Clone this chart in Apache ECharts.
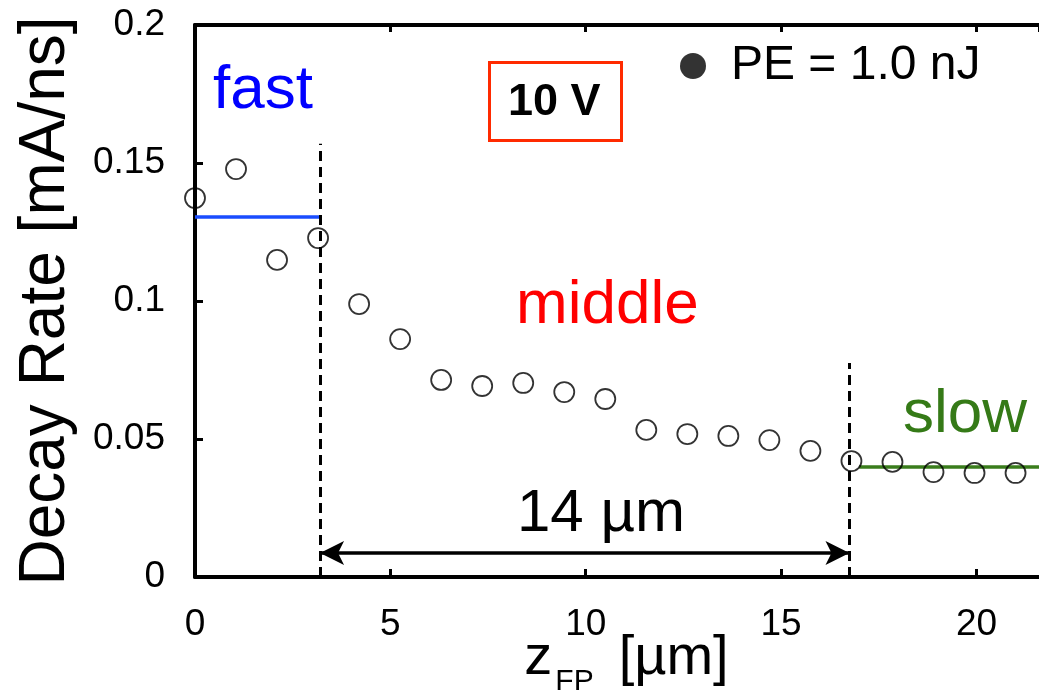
<!DOCTYPE html>
<html>
<head>
<meta charset="utf-8">
<script src="https://cdn.jsdelivr.net/npm/echarts@6/dist/echarts.min.js"></script>
<style>
html,body{margin:0;padding:0;background:#fff;}
#chart{width:1039px;height:695px;}
</style>
</head>
<body>
<div id="chart"></div>
<script>
// ---- data ----
var zPositions = [0, 1.05, 2.1, 3.15, 4.2, 5.25, 6.3, 7.35, 8.4, 9.45, 10.5, 11.55, 12.6, 13.65, 14.7, 15.75, 16.8, 17.85, 18.9, 19.95, 21.0];
var decayRates = [0.1373, 0.1478, 0.1149, 0.1228, 0.0989, 0.0862, 0.0714, 0.0692, 0.0703, 0.0670, 0.0645, 0.0533, 0.0518, 0.0511, 0.0496, 0.0457, 0.0420, 0.0417, 0.0380, 0.0377, 0.0377];
var seriesName = 'PE = 1.0 nJ';
var fastLevel = 0.1304;      // mA/ns
var slowLevel = 0.0399;      // mA/ns
var fastBoundary = 3.2;      // µm
var slowBoundary = 16.75;    // µm
var slowLineStart = 17.0;
var fastDashTop = 0.157;
var slowDashTop = 0.0775;
var arrowLevel = 0.0087;
var xMax = 21.6;
var yTickLabels = ['0', '0.05', '0.1', '0.15', '0.2'];

var FONT = '"Liberation Sans", Arial, Helvetica, sans-serif';

var points = zPositions.map(function (z, i) { return [z, decayRates[i]]; });

var chart = echarts.init(document.getElementById('chart'), null, {renderer: 'canvas'});

var axisLineStyle = {color: '#000', width: 4};

var option = {
  backgroundColor: '#fff',
  animation: false,
  grid: {left: 195, top: 25, right: 0, bottom: 118, containLabel: false, outerBoundsMode: 'none'},
  legend: {
    left: 680, top: 42, padding: 0,
    itemWidth: 26, itemHeight: 26,
    data: [{name: seriesName, icon: 'circle', itemStyle: {color: '#000', borderWidth: 0}}],
    textStyle: {fontSize: 48, fontFamily: FONT, color: '#000', padding: [0, 0, 0, 20]}
  },
  xAxis: [{
    type: 'value', min: 0, max: xMax, interval: 5, position: 'bottom',
    axisLine: {show: true, lineStyle: axisLineStyle},
    axisTick: {show: true, inside: true, length: 8, lineStyle: {color: '#000', width: 3}},
    axisLabel: {fontSize: 37, fontFamily: FONT, color: '#000', margin: 29,
      showMaxLabel: false},
    splitLine: {show: false},
    name: '{z|z}{s|FP}{u|[µm]}',
    nameLocation: 'middle', nameGap: 44, nameMoveOverlap: false,
    nameTextStyle: {
      rich: {
        z: {fontSize: 56, fontFamily: FONT, color: '#000', lineHeight: 76, padding: [0, 0, 0, 19]},
        s: {fontSize: 30, fontFamily: FONT, color: '#000', lineHeight: 30, verticalAlign: 'bottom', padding: [0, 0, 0, 3]},
        u: {fontSize: 56, fontFamily: FONT, color: '#000', lineHeight: 76, padding: [0, 0, 0, 25]}
      }
    }
  }, {
    type: 'value', min: 0, max: xMax, interval: 5, position: 'top',
    axisLine: {show: true, lineStyle: axisLineStyle},
    axisTick: {show: true, inside: true, length: 7, lineStyle: {color: '#000', width: 3}},
    axisLabel: {show: false},
    splitLine: {show: false}
  }],
  yAxis: {
    type: 'value', min: 0, max: 0.2, interval: 0.05,
    axisLine: {show: true, lineStyle: axisLineStyle},
    axisTick: {show: true, inside: true, length: 8, lineStyle: {color: '#000', width: 3}},
    axisLabel: {fontSize: 37, fontFamily: FONT, color: '#000', margin: 30,
      formatter: function (v, i) { return yTickLabels[i]; }},
    splitLine: {show: false},
    name: 'Decay Rate [mA/ns]',
    nameLocation: 'middle', nameRotate: 90, nameGap: 117, nameMoveOverlap: false,
    nameTextStyle: {fontSize: 64, fontFamily: FONT, color: '#000'}
  },
  series: [{
    name: seriesName,
    type: 'scatter',
    data: points,
    symbol: 'circle',
    symbolSize: 20,
    itemStyle: {color: 'rgba(255,255,255,0)', borderColor: '#000', borderWidth: 1.8},
    z: 5,
    markLine: {
      silent: true,
      animation: false,
      label: {show: false},
      symbol: ['none', 'none'],
      data: [
        [{coord: [0, fastLevel], lineStyle: {color: '#1a4cff', width: 3.5, type: 'solid'}}, {coord: [fastBoundary, fastLevel]}],
        [{coord: [slowLineStart, slowLevel], lineStyle: {color: '#3a7d1c', width: 3.5, type: 'solid'}}, {coord: [xMax, slowLevel]}],
        [{coord: [fastBoundary, 0], lineStyle: {color: '#000', width: 3, type: [10, 6]}}, {coord: [fastBoundary, fastDashTop]}],
        [{coord: [slowBoundary, 0], lineStyle: {color: '#000', width: 3, type: [10, 6]}}, {coord: [slowBoundary, slowDashTop]}],
        [{coord: [fastBoundary, arrowLevel], symbol: 'arrow', symbolSize: [18, 24],
          lineStyle: {color: '#000', width: 3.5, type: 'solid'}},
         {coord: [slowBoundary, arrowLevel], symbol: 'arrow', symbolSize: [18, 24]}]
      ]
    }
  }],
  graphic: [
    {type: 'text', left: 213, top: 60, style: {text: 'fast', fontSize: 62, fontFamily: FONT, fill: '#0000ff'}},
    {type: 'text', left: 516, top: 275, style: {text: 'middle', fontSize: 62, fontFamily: FONT, fill: '#ff0000'}},
    {type: 'text', left: 903, top: 384, style: {text: 'slow', fontSize: 62, fontFamily: FONT, fill: '#357a17'}},
    {type: 'text', left: 517, top: 484, style: {text: '14 µm', fontSize: 60, fontFamily: FONT, fill: '#000'}},
    {type: 'rect', left: 487, top: 60, shape: {width: 132, height: 78},
      style: {fill: 'none', stroke: '#ff2a00', lineWidth: 3}},
    {type: 'text', left: 508, top: 80, style: {text: '10 V', fontSize: 45, fontWeight: 'bold', fontFamily: FONT, fill: '#000'}}
  ]
};

chart.setOption(option);
</script>
</body>
</html>
